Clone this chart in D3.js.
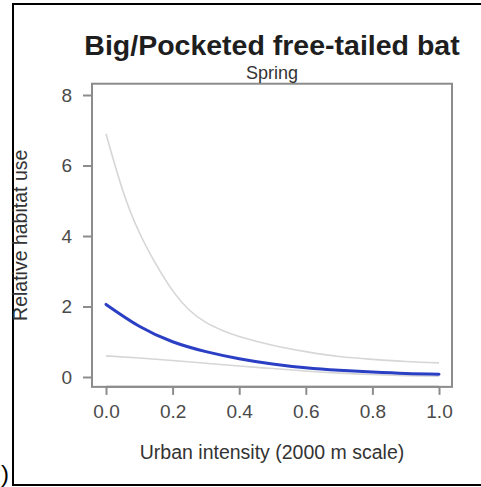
<!DOCTYPE html>
<html>
<head>
<meta charset="utf-8">
<script src="https://cdn.jsdelivr.net/npm/d3@7"></script>
<style>
  body { margin: 0; background: #fff; }
  svg text { font-family: "Liberation Sans", Arial, sans-serif; }
</style>
</head>
<body>
<svg id="chart" width="481" height="487"></svg>
<script>
// values
var xTicks = [0, 0.2, 0.4, 0.6, 0.8, 1.0];
var yTicks = [0, 2, 4, 6, 8];

var meanX = [0, 0.1, 0.2, 0.3, 0.4, 0.5, 0.6, 0.7, 0.8, 0.9, 1.0];
var meanY = [2.06, 1.44, 1.0, 0.72, 0.52, 0.37, 0.26, 0.19, 0.14, 0.1, 0.08];

var upperX = [0, 0.05, 0.1, 0.15, 0.2, 0.25, 0.3, 0.35, 0.4, 0.5, 0.6, 0.7, 0.8, 0.9, 1.0];
var upperY = [6.9, 5.3, 4.1, 3.2, 2.45, 1.9, 1.55, 1.32, 1.15, 0.9, 0.72, 0.58, 0.5, 0.44, 0.4];

var lowerX = [0, 0.1, 0.2, 0.3, 0.4, 0.5, 0.6, 0.7, 0.8, 0.9, 1.0];
var lowerY = [0.6, 0.54, 0.47, 0.39, 0.31, 0.24, 0.17, 0.11, 0.07, 0.04, 0.02];

var svg = d3.select("svg#chart");

// outer frame (right side runs off the picture)
svg.append("rect")
    .attr("x", 13).attr("y", 4)
    .attr("width", 480).attr("height", 481)
    .attr("fill", "none").attr("stroke", "#000").attr("stroke-width", 2);

// leftover bracket from caption
svg.append("text")
    .attr("x", 9).attr("y", 482)
    .attr("text-anchor", "end")
    .attr("font-size", 24)
    .attr("fill", "#000")
    .text(")");

var x = d3.scaleLinear().domain([0, 1]).range([106, 439]);
var y = d3.scaleLinear().domain([0, 8]).range([377, 95]);

// plot box, R style 4% padding
var bx0 = x(-0.042), bx1 = x(1.039), by0 = y(-0.28), by1 = y(8.32);

var line = d3.line()
    .x(function(d) { return x(d[0]); })
    .y(function(d) { return y(d[1]); })
    .curve(d3.curveNatural);

function pairs(xs, ys) { return xs.map(function(v, i) { return [v, ys[i]]; }); }

svg.append("path")
    .datum(pairs(upperX, upperY))
    .attr("fill", "none").attr("stroke", "#d6d6d6").attr("stroke-width", 1.6)
    .attr("d", line);

svg.append("path")
    .datum(pairs(lowerX, lowerY))
    .attr("fill", "none").attr("stroke", "#d6d6d6").attr("stroke-width", 1.6)
    .attr("d", line);

svg.append("path")
    .datum(pairs(meanX, meanY))
    .attr("fill", "none").attr("stroke", "#2b3fc4").attr("stroke-width", 3)
    .attr("stroke-linecap", "round")
    .attr("d", line);

svg.append("rect")
    .attr("x", bx0).attr("y", by1)
    .attr("width", bx1 - bx0).attr("height", by0 - by1)
    .attr("fill", "none").attr("stroke", "#8c8c8c").attr("stroke-width", 2);

// x axis
var gx = svg.append("g")
    .attr("transform", "translate(0," + by0 + ")")
    .call(d3.axisBottom(x).tickValues(xTicks).tickFormat(d3.format(".1f")).tickSize(8).tickPadding(10));
gx.select(".domain").attr("stroke", "#8c8c8c").attr("stroke-width", 2)
    .attr("d", "M" + x(0) + ",0H" + x(1));
gx.selectAll(".tick line").attr("stroke", "#8c8c8c").attr("stroke-width", 2);
gx.selectAll(".tick text").attr("fill", "#4a4a4a").attr("font-size", 19)
    .attr("font-family", "Liberation Sans, Arial, sans-serif");

// y axis
var gy = svg.append("g")
    .attr("transform", "translate(" + bx0 + ",0)")
    .call(d3.axisLeft(y).tickValues(yTicks).tickSize(9).tickPadding(11));
gy.select(".domain").remove();
gy.selectAll(".tick line").attr("stroke", "#8c8c8c").attr("stroke-width", 2);
gy.selectAll(".tick text").attr("fill", "#4a4a4a").attr("font-size", 19)
    .attr("font-family", "Liberation Sans, Arial, sans-serif");

var cx = (bx0 + bx1) / 2;

svg.append("text")
    .attr("x", cx).attr("y", 55)
    .attr("text-anchor", "middle")
    .attr("font-size", 28.5).attr("font-weight", "bold").attr("fill", "#1e1e1e")
    .text("Big/Pocketed free-tailed bat");

svg.append("text")
    .attr("x", cx).attr("y", 79)
    .attr("text-anchor", "middle")
    .attr("font-size", 18).attr("fill", "#333")
    .text("Spring");

svg.append("text")
    .attr("x", cx).attr("y", 459)
    .attr("text-anchor", "middle")
    .attr("font-size", 19.5).attr("fill", "#333")
    .text("Urban intensity (2000 m scale)");

svg.append("text")
    .attr("transform", "translate(27," + ((by0 + by1) / 2) + ") rotate(-90)")
    .attr("text-anchor", "middle")
    .attr("font-size", 19.5).attr("fill", "#333")
    .text("Relative habitat use");
</script>
</body>
</html>
